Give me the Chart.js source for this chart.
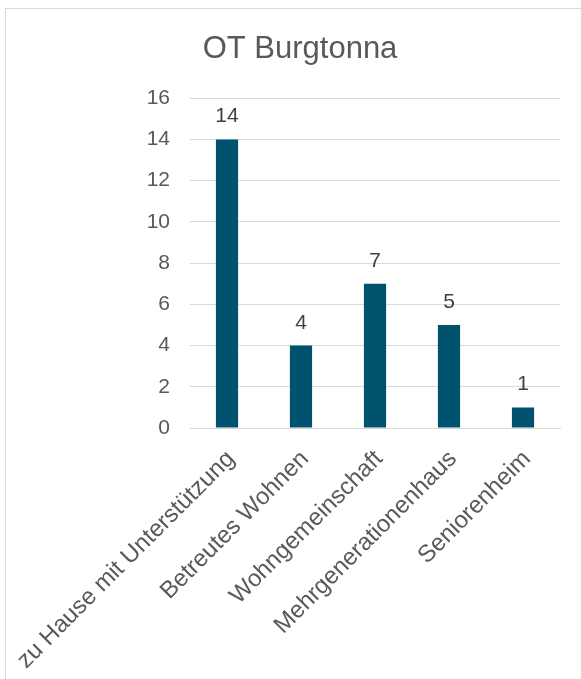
<!DOCTYPE html>
<html>
<head>
<meta charset="utf-8">
<script src="https://cdn.jsdelivr.net/npm/chart.js@4"></script>
<style>
  html, body { margin: 0; padding: 0; background: #fff; }
  #wrap { position: relative; width: 581px; height: 679px; }
  #frame { position: absolute; left: 5px; top: 8px; right: -2px; bottom: -2px;
           border: 1px solid #d9d9d9; }
</style>
</head>
<body>
<div id="wrap">
  <div id="frame"></div>
  <canvas id="bar-chart"></canvas>
</div>
<script>
const categories = [
  "zu Hause mit Unterstützung",
  "Betreutes Wohnen",
  "Wohngemeinschaft",
  "Mehrgenerationenhaus",
  "Seniorenheim"
];
const counts = [14, 4, 7, 5, 1];
const yTicks = [0, 2, 4, 6, 8, 10, 12, 14, 16];

// values above each bar
const valueLabels = {
  id: "valueLabels",
  afterDatasetsDraw(chart) {
    const ctx = chart.ctx;
    const meta = chart.getDatasetMeta(0);
    ctx.save();
    ctx.fillStyle = "#404040";
    ctx.font = "21px 'Liberation Sans', Arial, sans-serif";
    ctx.textAlign = "center";
    ctx.textBaseline = "alphabetic";
    meta.data.forEach((bar, i) => {
      ctx.fillText(String(counts[i]), bar.x, bar.y - 17);
    });
    ctx.restore();
  }
};

Chart.defaults.font.family = "'Liberation Sans', Arial, sans-serif";
Chart.defaults.color = "#595959";

new Chart(document.getElementById("bar-chart"), {
  type: "bar",
  data: {
    labels: categories,
    datasets: [{
      data: counts,
      backgroundColor: "#00536e",
      barPercentage: 0.3,
      categoryPercentage: 1
    }]
  },
  options: {
    responsive: true,
    maintainAspectRatio: false,
    animation: false,
    layout: { padding: { left: 40, right: 21, top: 0, bottom: 0 } },
    plugins: {
      legend: { display: false },
      tooltip: { enabled: false },
      title: {
        display: true,
        text: "OT Burgtonna",
        color: "#595959",
        font: { size: 31, weight: "normal" },
        padding: { top: 31, bottom: 30 }
      }
    },
    scales: {
      x: {
        grid: { display: false, drawTicks: false },
        border: { color: "#d9d9d9", width: 1 },
        ticks: {
          color: "#595959",
          font: { size: 24 },
          minRotation: 45,
          maxRotation: 45,
          autoSkip: false,
          padding: 17,
          labelOffset: 4
        },
        afterFit(scale) {
          scale.height = 251;
          // the long rotated labels may overflow to the left, like in the original
          scale.paddingLeft = 0;
          scale.paddingRight = 0;
        }
      },
      y: {
        min: 0,
        max: 16,
        afterBuildTicks(scale) { scale.ticks = yTicks.map(v => ({ value: v })); },
        grid: { color: "#d9d9d9", drawTicks: false },
        border: { display: false },
        ticks: {
          color: "#595959",
          font: { size: 21 },
          padding: 20
        },
        afterFit(scale) { scale.width = 150; }
      }
    }
  },
  plugins: [valueLabels]
});
</script>
</body>
</html>
